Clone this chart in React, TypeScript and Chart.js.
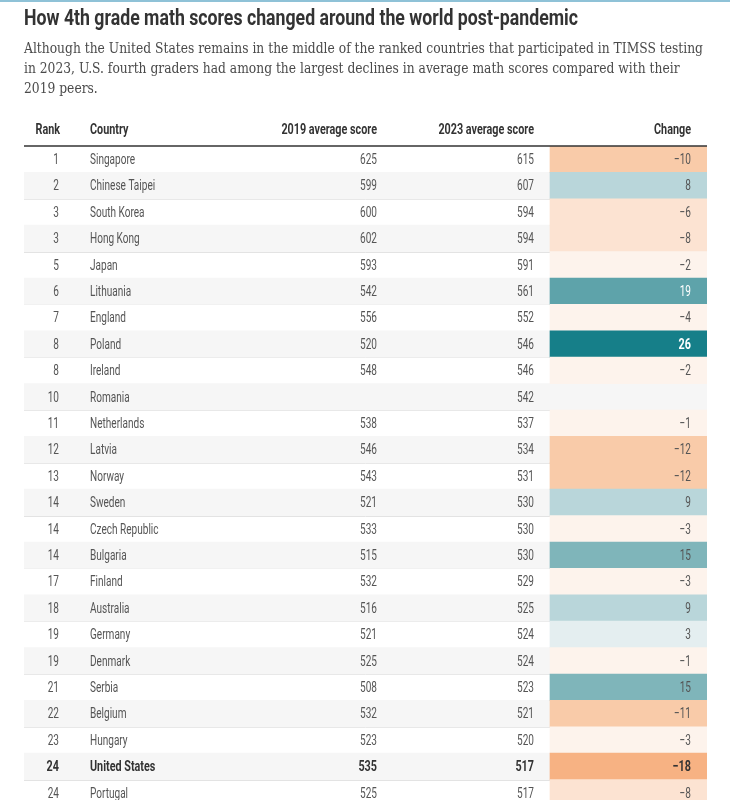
import React, { useEffect, useRef } from "react";
import { Chart, registerables } from "chart.js";

Chart.register(...registerables);

const title = "How 4th grade math scores changed around the world post-pandemic";
const subtitleLines = [
  "Although the United States remains in the middle of the ranked countries that participated in TIMSS testing",
  "in 2023, U.S. fourth graders had among the largest declines in average math scores compared with their",
  "2019 peers.",
];
const headers = ["Rank", "Country", "2019 average score", "2023 average score", "Change"];

const ranks = [1, 2, 3, 3, 5, 6, 7, 8, 8, 10, 11, 12, 13, 14, 14, 14, 17, 18, 19, 19, 21, 22, 23, 24, 24];
const countries = [
  "Singapore", "Chinese Taipei", "South Korea", "Hong Kong", "Japan", "Lithuania", "England",
  "Poland", "Ireland", "Romania", "Netherlands", "Latvia", "Norway", "Sweden", "Czech Republic",
  "Bulgaria", "Finland", "Australia", "Germany", "Denmark", "Serbia", "Belgium", "Hungary",
  "United States", "Portugal",
];
const scores2019: (number | null)[] = [625, 599, 600, 602, 593, 542, 556, 520, 548, null, 538, 546, 543, 521, 533, 515, 532, 516, 521, 525, 508, 532, 523, 535, 525];
const scores2023 = [615, 607, 594, 594, 591, 561, 552, 546, 546, 542, 537, 534, 531, 530, 530, 530, 529, 525, 524, 524, 523, 521, 520, 517, 517];
const changes: (number | null)[] = [-10, 8, -6, -8, -2, 19, -4, 26, -2, null, -1, -12, -12, 9, -3, 15, -3, 9, 3, -1, 15, -11, -3, -18, -8];
const highlightCountry = "United States";

function changeColor(v: number | null): string {
  if (v == null) return "rgba(0,0,0,0)";
  if (v >= 20) return "#167f89";
  if (v >= 16) return "#5ea3aa";
  if (v >= 10) return "#7fb5ba";
  if (v >= 5) return "#b9d6da";
  if (v >= 1) return "#e4eef0";
  if (v >= -4) return "#fdf3ec";
  if (v >= -9) return "#fce3d2";
  if (v >= -14) return "#f9cba9";
  return "#f7b283";
}

// column anchors as fractions of the table width
const COL_RANK = (60 - 24) / 683;
const COL_COUNTRY = (90 - 24) / 683;
const COL_2019 = (377 - 24) / 683;
const COL_2023 = (534 - 24) / 683;
const COL_CHANGE_START = (550 - 24) / 683;
const COL_CHANGE = (691 - 24) / 683;

const SX = 0.67;
const SX_HEAD = 0.72;

function drawText(
  ctx: CanvasRenderingContext2D,
  text: string,
  x: number,
  y: number,
  align: CanvasTextAlign,
  font: string,
  color: string,
  sx: number,
  baseline: CanvasTextBaseline = "middle"
) {
  ctx.save();
  ctx.font = font;
  ctx.fillStyle = color;
  ctx.textAlign = align;
  ctx.textBaseline = baseline;
  ctx.translate(x, y);
  ctx.scale(sx, 1);
  ctx.fillText(text, 0, 0);
  ctx.restore();
}

const tablePlugin = {
  id: "tablePlugin",
  beforeDatasetsDraw(chart: any) {
    const { ctx, chartArea } = chart;
    const n = countries.length;
    const h = (chartArea.bottom - chartArea.top) / n;
    ctx.save();
    ctx.strokeStyle = "#e3e3e3";
    ctx.lineWidth = 1;
    for (let i = 1; i <= n; i++) {
      const y = Math.round(chartArea.top + i * h) + 0.5;
      ctx.beginPath();
      ctx.moveTo(chartArea.left, y);
      ctx.lineTo(chartArea.right, y);
      ctx.stroke();
    }
    ctx.restore();
  },
  afterDraw(chart: any) {
    const { ctx, chartArea, scales } = chart;
    const xs = scales.x;
    const ys = scales.y;

    // top accent line
    ctx.save();
    ctx.fillStyle = "#8fc2d7";
    ctx.fillRect(0, 0, chart.width, 2);
    ctx.restore();

    // title
    ctx.save();
    ctx.font = "bold 22px Roboto";
    const tw = ctx.measureText(title).width;
    ctx.restore();
    drawText(ctx, title, 24, 25, "left", "bold 22px Roboto", "#333333", 554 / tw, "alphabetic");

    // subtitle
    const subFont = '15.5px "DejaVu Serif"';
    ctx.save();
    ctx.font = subFont;
    const sw = ctx.measureText(subtitleLines[0]).width;
    ctx.restore();
    const ssx = 679 / sw;
    subtitleLines.forEach((line, i) => {
      drawText(ctx, line, 24, 53 + i * 20, "left", subFont, "#4a4a4a", ssx, "alphabetic");
    });

    // header
    const hy = 130;
    const hf = "bold 15px Roboto";
    const hc = "#333333";
    drawText(ctx, headers[0], xs.getPixelForValue(COL_RANK), hy, "right", hf, hc, SX_HEAD);
    drawText(ctx, headers[1], xs.getPixelForValue(COL_COUNTRY), hy, "left", hf, hc, SX_HEAD);
    drawText(ctx, headers[2], xs.getPixelForValue(COL_2019), hy, "right", hf, hc, SX_HEAD);
    drawText(ctx, headers[3], xs.getPixelForValue(COL_2023), hy, "right", hf, hc, SX_HEAD);
    drawText(ctx, headers[4], xs.getPixelForValue(COL_CHANGE), hy, "right", hf, hc, SX_HEAD);

    ctx.save();
    ctx.strokeStyle = "#333333";
    ctx.lineWidth = 1.5;
    ctx.beginPath();
    ctx.moveTo(chartArea.left, chartArea.top);
    ctx.lineTo(chartArea.right, chartArea.top);
    ctx.stroke();
    ctx.restore();

    // cells
    countries.forEach((c, i) => {
      const y = ys.getPixelForValue(i) + 1;
      const hl = c === highlightCountry;
      const font = hl ? "bold 15px Roboto" : "15px Roboto";
      const color = hl ? "#333333" : "#555555";
      drawText(ctx, String(ranks[i]), xs.getPixelForValue(COL_RANK) - 1, y, "right", font, color, hl ? SX_HEAD : SX);
      drawText(ctx, c, xs.getPixelForValue(COL_COUNTRY), y, "left", font, color, hl ? SX_HEAD : SX);
      const a = scores2019[i];
      if (a != null) drawText(ctx, String(a), xs.getPixelForValue(COL_2019), y, "right", font, color, hl ? SX_HEAD : SX);
      drawText(ctx, String(scores2023[i]), xs.getPixelForValue(COL_2023), y, "right", font, color, hl ? SX_HEAD : SX);
      const v = changes[i];
      if (v != null) {
        const txt = v < 0 ? "\u2212" + Math.abs(v) : String(v);
        const strong = v >= 16;
        const f = hl || v >= 20 ? "bold 15px Roboto" : font;
        drawText(ctx, txt, xs.getPixelForValue(COL_CHANGE), y, "right", f, strong ? "#ffffff" : color, hl || v >= 20 ? SX_HEAD : SX);
      }
    });
  },
};

export default function App() {
  const ref = useRef<HTMLCanvasElement | null>(null);
  useEffect(() => {
    if (!ref.current) return;
    const chart = new Chart(ref.current, {
      type: "bar",
      data: {
        labels: countries,
        datasets: [
          {
            label: "stripes",
            data: countries.map((_, i) => (i % 2 === 1 ? [0, 1] : null)) as any,
            backgroundColor: "#f6f6f6",
            barPercentage: 1,
            categoryPercentage: 1,
            grouped: false,
            borderWidth: 0,
            order: 2,
          },
          {
            label: "Change",
            data: changes.map((v) => (v == null ? null : [COL_CHANGE_START, 1])) as any,
            backgroundColor: changes.map((v) => changeColor(v)),
            barPercentage: 1,
            categoryPercentage: 1,
            grouped: false,
            borderWidth: 0,
            order: 1,
          },
        ],
      },
      options: {
        indexAxis: "y",
        responsive: false,
        animation: false,
        layout: { padding: { left: 24, right: 23, top: 146, bottom: 2 } },
        scales: {
          x: { display: false, min: 0, max: 1 },
          y: { display: false },
        },
        plugins: {
          legend: { display: false },
          tooltip: { enabled: false },
          title: { display: false },
        },
      },
      plugins: [tablePlugin],
    });
    return () => chart.destroy();
  }, []);
  return (
    <div style={{ position: "fixed", left: 0, top: 0, width: 730, height: 800, overflow: "hidden", background: "#fff" }}>
      <canvas ref={ref} width={730} height={808} style={{ display: "block" }} />
    </div>
  );
}
